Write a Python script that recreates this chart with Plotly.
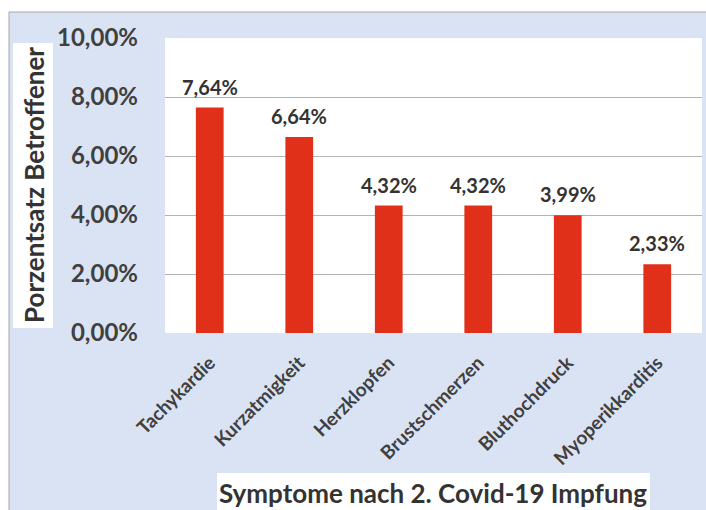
import plotly.graph_objects as go

# Data
symptoms = ["Tachykardie", "Kurzatmigkeit", "Herzklopfen", "Brustschmerzen",
            "Bluthochdruck", "Myoperikkarditis"]
shares = [0.0764, 0.0664, 0.0432, 0.0432, 0.0399, 0.0233]
y_ticks = [0.0, 0.02, 0.04, 0.06, 0.08, 0.10]

y_title = "Porzentsatz Betroffener"
x_title = "Symptome nach 2. Covid-19 Impfung"

W, H = 706, 510
ML, MR, MT, MB = 165, 4, 38, 177
PW, PH = W - ML - MR, H - MT - MB

FONT = "Lato"
BAR = "#e0301a"
BLUE_BG = "#dae3f3"
TXT = "#404040"


def px_x(px):
    return (px - ML) / PW


def px_y(py):
    return (H - MB - py) / PH


fig = go.Figure(
    go.Bar(
        x=symptoms,
        y=shares,
        marker=dict(color=BAR, line=dict(width=0)),
        width=0.31,
        hoverinfo="skip",
    )
)

# value labels above the bars
for s, v in zip(symptoms, shares):
    fig.add_annotation(
        x=s, y=v, xref="x", yref="y",
        text="<b>" + f"{v * 100:.2f}%".replace(".", ",") + "</b>",
        showarrow=False, yanchor="bottom", yshift=7,
        font=dict(family=FONT, size=20, color="#333333"),
    )

shapes = [
    # light blue chart frame
    dict(type="rect", xref="paper", yref="paper", layer="below",
         x0=px_x(9), x1=px_x(W + 5), y0=px_y(12), y1=px_y(H + 5),
         fillcolor=BLUE_BG, line=dict(color="#a6a6a6", width=1)),
    # white plot area
    dict(type="rect", xref="paper", yref="paper", layer="below",
         x0=0, x1=1, y0=0, y1=1, fillcolor="white", line=dict(width=0)),
    # white box behind the y title
    dict(type="rect", xref="paper", yref="paper", layer="below",
         x0=px_x(13), x1=px_x(53), y0=px_y(43), y1=px_y(328),
         fillcolor="white", line=dict(width=0)),
    # white box behind the x title
    dict(type="rect", xref="paper", yref="paper", layer="below",
         x0=px_x(217), x1=px_x(650), y0=px_y(473), y1=px_y(H + 5),
         fillcolor="white", line=dict(width=0)),
]

fig.add_annotation(
    x=px_x(34), y=px_y(185), xref="paper", yref="paper",
    text=f"<b>{y_title}</b>", textangle=-90, showarrow=False,
    xanchor="center", yanchor="middle",
    font=dict(family=FONT, size=26, color="#333333"),
)
fig.add_annotation(
    x=px_x(433), y=px_y(493), xref="paper", yref="paper",
    text=f"<b>{x_title}</b>", showarrow=False,
    xanchor="center", yanchor="middle",
    font=dict(family=FONT, size=26, color="#333333"),
)

fig.update_layout(
    width=W, height=H,
    margin=dict(l=ML, r=MR, t=MT, b=MB, pad=0),
    paper_bgcolor="white",
    plot_bgcolor="rgba(0,0,0,0)",
    separators=",.",
    showlegend=False,
    shapes=shapes,
    bargap=0.69,
)

fig.update_xaxes(
    tickangle=-45,
    tickfont=dict(family=FONT, size=19, color=TXT, weight="bold"),
    showgrid=False, zeroline=False, showline=False,
    ticks="", ticklabelstandoff=14,
)
fig.update_yaxes(
    range=[0, 0.10],
    tickvals=y_ticks,
    tickformat=".2%",
    tickfont=dict(family=FONT, size=24, color=TXT, weight="bold"),
    showgrid=True, gridcolor="#b3b3b3", gridwidth=1,
    zeroline=False, showline=False,
    ticks="", ticklabelstandoff=26,
)

fig.write_html("out.html")
